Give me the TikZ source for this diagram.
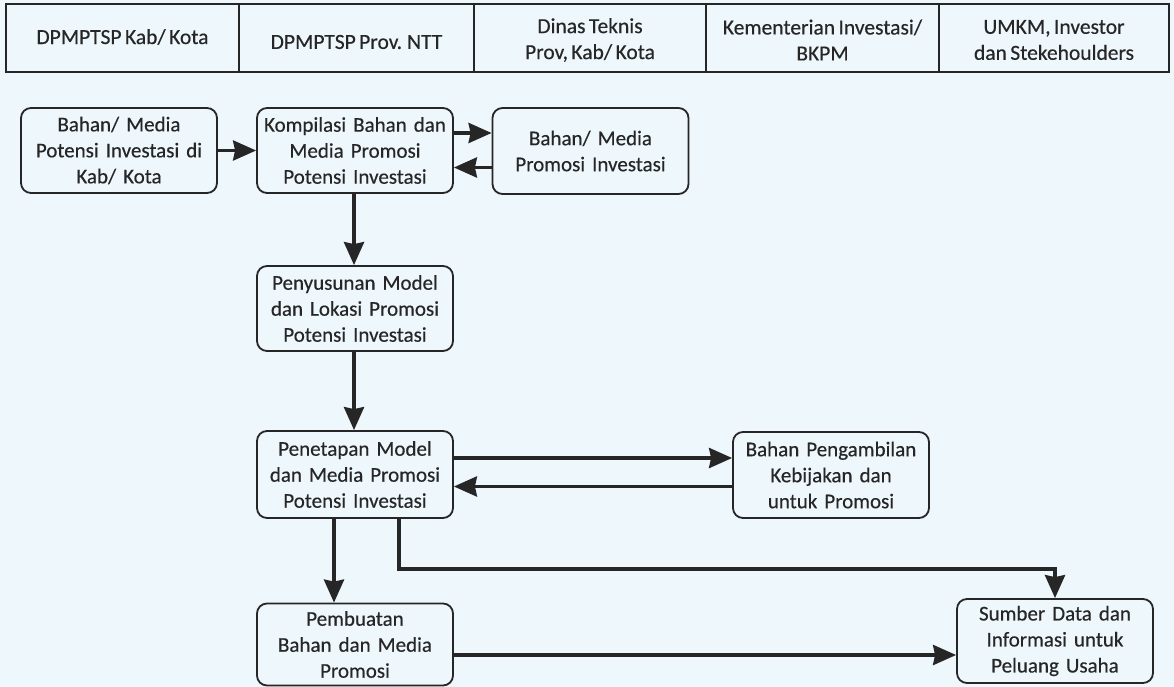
\documentclass[tikz,border=0pt]{standalone}
\usepackage{fontspec}
\setmainfont{Carlito}[UprightFeatures={FakeBold=0.35}]
\usetikzlibrary{arrows.meta}
\definecolor{bg}{HTML}{EEF7FB}
\definecolor{ink}{HTML}{262626}
\definecolor{txt}{HTML}{262626}
\newcommand{\boxfont}{\fontsize{21}{26}\selectfont\spaceskip=0.16em plus 0.05em minus 0.05em\relax}
\newcommand{\headfont}{\fontsize{21.5}{26}\selectfont\spaceskip=0.16em plus 0.05em minus 0.05em\relax}
\begin{document}
\begin{tikzpicture}[x=1pt,y=-1pt,
  box/.style={draw=ink,line width=1.8pt,rounded corners=10pt,minimum width=196pt,
    text width=194pt,align=center,inner sep=0pt,text=txt,font=\boxfont},
  head/.style={align=center,text=txt,inner sep=0pt,font=\headfont},
  arr/.style={draw=ink,line width=3.6pt,-{Stealth[length=23pt,width=20pt,inset=2pt]}}]
\useasboundingbox (0,0) rectangle (1174,687);
\fill[bg] (0,0) rectangle (1174,687);
% header table
\draw[ink,line width=1.6pt] (6,4) rectangle (1169,72);
\foreach \xx in {239,474,706,939} \draw[ink,line width=1.6pt] (\xx,4) -- (\xx,72);
\node[head] (h1) at (122.5,37) {DPMPTSP Kab/ Kota};
\node[head] (h2) at (356.5,42) {DPMPTSP Prov. NTT};
\node[head] (h3) at (590,40) {Dinas Teknis\\Prov, Kab/ Kota};
\node[head] (h4) at (822.5,40) {Kementerian Investasi/\\BKPM};
\node[head] (h5) at (1054,40) {UMKM, Investor\\dan Stekehoulders};
% boxes
\node[box,minimum height=85pt] (b1) at (119,150.5) {Bahan/ Media\\Potensi Investasi di\\Kab/ Kota};
\node[box,minimum height=85pt] (b2) at (355,150.5) {Kompilasi Bahan dan\\Media Promosi\\Potensi Investasi};
\node[box,minimum height=86pt] (b3) at (590.5,151) {Bahan/ Media\\Promosi Investasi\\[4pt]};
\node[box,minimum height=85pt] (b4) at (355,308.5) {Penyusunan Model\\dan Lokasi Promosi\\Potensi Investasi};
\node[box,minimum height=87pt] (b5) at (355,474.5) {Penetapan Model\\dan Media Promosi\\Potensi Investasi};
\node[box,minimum height=86pt] (b6) at (831,475) {Bahan Pengambilan\\Kebijakan dan\\untuk Promosi};
\node[box,minimum height=82pt] (b7) at (355,644.5) {Pembuatan\\Bahan dan Media\\Promosi};
\node[box,minimum height=84pt] (b8) at (1055,641) {Sumber Data dan\\Informasi untuk\\Peluang Usaha};
% connectors
\draw[arr] (b1) -- (b2);
\draw[arr] ([yshift=17.5pt]b2.east) -- ([yshift=17.5pt]b2.east -| b3.west);
\draw[arr] ([yshift=-16.5pt]b3.west) -- ([yshift=-16.5pt]b3.west -| b2.east);
\draw[arr] ([xshift=-1pt]b2.south) -- ([xshift=-1pt]b4.north);
\draw[arr] ([xshift=-1pt]b4.south) -- ([xshift=-1pt]b5.north);
\draw[arr] ([yshift=16.5pt]b5.east) -- ([yshift=16.5pt]b5.east -| b6.west);
\draw[arr] ([yshift=-11.5pt]b6.west) -- ([yshift=-11.5pt]b6.west -| b5.east);
\draw[arr] ([xshift=-21pt]b5.south) -- ([xshift=-21pt]b7.north);
\coordinate (j) at (1055,569);
\draw[arr] ([xshift=44pt]b5.south) |- (j) -- (b8.north);
\coordinate (p) at ([yshift=-10.5pt]b7.east);
\draw[arr] (p) -- (p -| b8.west);
\end{tikzpicture}
\end{document}
